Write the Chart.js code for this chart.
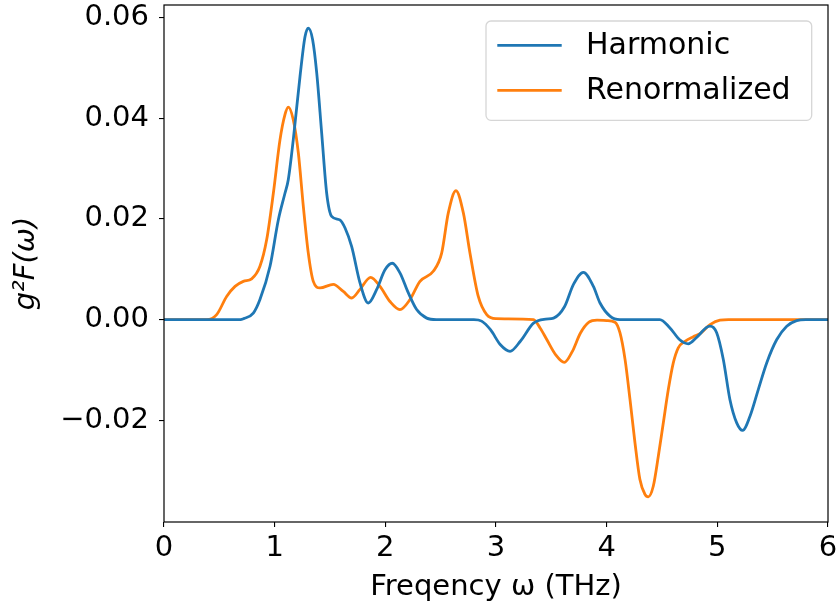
<!DOCTYPE html>
<html><head><meta charset="utf-8">
<script src="https://cdn.jsdelivr.net/npm/chart.js@4.4.0/dist/chart.umd.min.js"></script>
<style>html,body{margin:0;padding:0;background:#fff;overflow:hidden}#wrap{width:837px;height:612px}</style>
</head><body><div id="wrap"><canvas id="c" width="837" height="612"></canvas></div>
<script>
const seriesNames = ['Harmonic', 'Renormalized'];
const seriesColors = ['#1f77b4', '#ff7f0e'];
const xTicks = [0, 1, 2, 3, 4, 5, 6];
const yTicks = [-0.02, 0.00, 0.02, 0.04, 0.06];
const xTitle = 'Freqency ω (THz)';
const yTitle = 'g²F(ω)';

const harmonicFreq = [0, 0.5, 0.69, 0.72, 0.807, 0.867, 0.958, 1.033, 1.093, 1.123, 1.168, 1.229, 1.274, 1.304, 1.343, 1.38, 1.425, 1.47, 1.515, 1.59, 1.636, 1.696, 1.771, 1.846, 1.922, 1.997, 2.063, 2.132, 2.208, 2.283, 2.374, 2.46, 2.8, 2.87, 2.95, 3.04, 3.127, 3.22, 3.339, 3.45, 3.52, 3.62, 3.7, 3.79, 3.88, 3.94, 4.03, 4.12, 4.48, 4.57, 4.66, 4.737, 4.81, 4.9, 4.934, 4.994, 5.054, 5.114, 5.175, 5.229, 5.295, 5.37, 5.446, 5.536, 5.627, 5.717, 5.8, 6.0];
const harmonicVals = [0, 0, 0, 0.0002, 0.0013, 0.004, 0.0106, 0.0198, 0.0251, 0.0278, 0.0357, 0.0483, 0.0562, 0.0579, 0.0556, 0.049, 0.037, 0.0251, 0.0205, 0.0198, 0.0182, 0.0145, 0.0073, 0.0033, 0.006, 0.0099, 0.0112, 0.0093, 0.0053, 0.002, 0.0003, 0, 0, -0.0003, -0.002, -0.005, -0.0063, -0.0043, -0.0007, 0.0001, 0.0003, 0.0026, 0.007, 0.0094, 0.0066, 0.0033, 0.0007, 0, 0, -0.0016, -0.004, -0.0048, -0.0036, -0.0016, -0.0013, -0.0026, -0.0079, -0.0159, -0.0205, -0.022, -0.0192, -0.0139, -0.0086, -0.004, -0.0013, -0.0002, 0, 0];

const renormFreq = [0, 0.386, 0.476, 0.566, 0.642, 0.717, 0.792, 0.867, 0.928, 0.988, 1.048, 1.093, 1.123, 1.168, 1.214, 1.259, 1.304, 1.349, 1.41, 1.53, 1.62, 1.696, 1.771, 1.867, 1.952, 2.042, 2.132, 2.223, 2.313, 2.433, 2.509, 2.569, 2.638, 2.705, 2.765, 2.84, 2.916, 3.0, 3.339, 3.4, 3.46, 3.54, 3.617, 3.69, 3.762, 3.84, 3.913, 4.0, 4.075, 4.12, 4.166, 4.211, 4.256, 4.3, 4.346, 4.376, 4.421, 4.467, 4.512, 4.557, 4.602, 4.647, 4.708, 4.783, 4.843, 4.934, 5.024, 5.1, 6.0];
const renormVals = [0, 0, 0.001, 0.0046, 0.0066, 0.0076, 0.0081, 0.0106, 0.0159, 0.0251, 0.0357, 0.0407, 0.0422, 0.0397, 0.0331, 0.0225, 0.0132, 0.0076, 0.0063, 0.007, 0.0056, 0.0043, 0.006, 0.0084, 0.0066, 0.0036, 0.002, 0.004, 0.0076, 0.0096, 0.0132, 0.0212, 0.0256, 0.0212, 0.0132, 0.0046, 0.001, 0.0002, 0, -0.0017, -0.004, -0.007, -0.0085, -0.0063, -0.0027, -0.0005, -0.0001, -0.0002, -0.0005, -0.0026, -0.0079, -0.0159, -0.0245, -0.0317, -0.0347, -0.0352, -0.0331, -0.0271, -0.0205, -0.0139, -0.0086, -0.0056, -0.0043, -0.0034, -0.0028, -0.001, -0.0001, 0, 0];

const FONT = 'DejaVu Sans';
const toPts = (xs, ys) => xs.map((x, i) => ({x: x, y: ys[i]}));

const framePlugin = {
  id: 'frameLegend',
  afterDatasetsDraw(chart) {
    const ctx = chart.ctx, a = chart.chartArea;
    ctx.save();
    ctx.strokeStyle = '#000';
    ctx.lineWidth = 1.2;
    ctx.strokeRect(a.left, a.top, a.right - a.left, a.bottom - a.top);
    // legend box
    const bw = 325.7, bh = 99.3;
    const bx = a.right - 16.3 - bw, by = a.top + 16;
    const r = 5;
    ctx.beginPath();
    ctx.moveTo(bx + r, by);
    ctx.arcTo(bx + bw, by, bx + bw, by + bh, r);
    ctx.arcTo(bx + bw, by + bh, bx, by + bh, r);
    ctx.arcTo(bx, by + bh, bx, by, r);
    ctx.arcTo(bx, by, bx + bw, by, r);
    ctx.closePath();
    ctx.fillStyle = 'rgba(255,255,255,0.8)';
    ctx.fill();
    ctx.strokeStyle = 'rgba(204,204,204,0.8)';
    ctx.lineWidth = 1.3;
    ctx.stroke();
    ctx.font = '30px "' + FONT + '"';
    ctx.textBaseline = 'middle';
    ctx.textAlign = 'left';
    seriesNames.forEach((name, i) => {
      const yy = by + 24.3 + i * 45;
      ctx.strokeStyle = seriesColors[i];
      ctx.lineWidth = 2.8;
      ctx.beginPath();
      ctx.moveTo(bx + 11.3, yy);
      ctx.lineTo(bx + 75.7, yy);
      ctx.stroke();
      ctx.fillStyle = '#000';
      ctx.fillText(name, bx + 100, yy + 1);
    });
    ctx.restore();
  }
};

new Chart(document.getElementById('c'), {
  type: 'line',
  data: {
    datasets: [
      {label: seriesNames[0], data: toPts(harmonicFreq, harmonicVals), borderColor: seriesColors[0], backgroundColor: seriesColors[0], borderWidth: 2.8, pointRadius: 0, cubicInterpolationMode: 'monotone', fill: false},
      {label: seriesNames[1], data: toPts(renormFreq, renormVals), borderColor: seriesColors[1], backgroundColor: seriesColors[1], borderWidth: 2.8, pointRadius: 0, cubicInterpolationMode: 'monotone', fill: false}
    ]
  },
  options: {
    responsive: false,
    animation: false,
    devicePixelRatio: 1,
    layout: {padding: {left: 0, top: 5, right: 9, bottom: 0}},
    plugins: {legend: {display: false}, tooltip: {enabled: false}},
    scales: {
      x: {
        type: 'linear', min: 0, max: 6,
        afterBuildTicks: s => { s.ticks = xTicks.map(v => ({value: v})); },
        afterFit: s => { s.height = 90; s.paddingLeft = 0; s.paddingRight = 0; },
        ticks: {font: {family: FONT, size: 29}, color: '#000', padding: 4, maxRotation: 0, autoSkip: false, callback: v => String(v)},
        grid: {drawOnChartArea: false, drawTicks: true, tickLength: 5, color: '#000', lineWidth: 1.1},
        border: {display: false},
        title: {display: true, text: xTitle, color: '#000', font: {family: FONT, size: 29}, padding: {top: 0, bottom: 7}}
      },
      y: {
        type: 'linear', min: -0.0402, max: 0.0625,
        afterBuildTicks: s => { s.ticks = yTicks.map(v => ({value: v})); },
        afterFit: s => { s.width = 164; s.paddingTop = 0; s.paddingBottom = 0; },
        ticks: {font: {family: FONT, size: 29}, color: '#000', padding: 10, callback: v => v.toFixed(2).replace('-', '\u2212')},
        grid: {drawOnChartArea: false, drawTicks: true, tickLength: 5, color: '#000', lineWidth: 1.1},
        border: {display: false},
        title: {display: true, text: yTitle, color: '#000', font: {family: FONT, size: 29, style: 'italic'}, padding: {top: 9, bottom: 0}}
      }
    }
  },
  plugins: [framePlugin]
});
</script></body></html>
